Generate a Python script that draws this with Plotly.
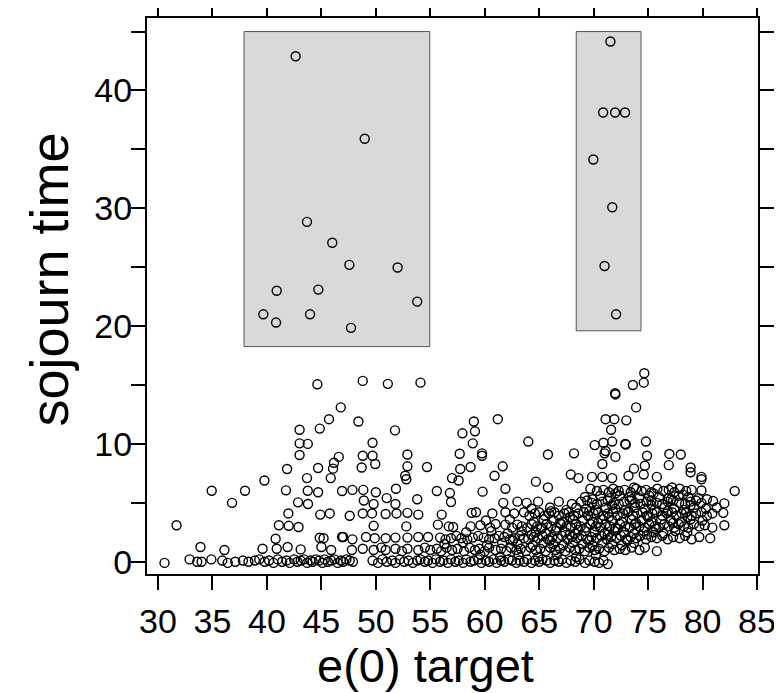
import plotly.graph_objects as go

# ---- data: (e(0) target, sojourn time) ----
box_left = [(40.9, 23.0), (44.72, 23.1), (39.67, 21.0), (43.96, 21.0), (40.84, 20.3),
            (47.72, 19.85), (42.64, 42.9), (48.98, 35.9), (43.68, 28.85), (46.0, 27.07),
            (47.57, 25.2), (52.0, 24.97), (53.8, 22.08)]
box_right = [(71.54, 44.16), (70.87, 38.13), (71.97, 38.13), (72.88, 38.13), (69.97, 34.14),
             (71.71, 30.09), (71.0, 25.1), (72.06, 21.0)]

row_0 = [(30.6,-0.1),(32.9,0.2),(33.6,0.0),(34.0,0.0),(34.9,0.2),(35.9,0.1),(36.4,-0.1),(37.1,0.0),
         (37.8,0.1),(38.3,0.0),(38.9,0.1),(39.3,0.2),(39.8,0.0),(40.2,0.1),(40.6,-0.1),(41.0,0.2),
         (41.4,0.0),(41.8,0.1),(42.1,-0.1),(42.5,0.2),(42.8,0.0),(43.1,0.1),(43.4,0.2),(43.7,-0.1),
         (44.0,0.1),(44.2,0.0),(44.5,0.2),(44.8,0.1),(45.1,-0.1),(45.3,0.2),(45.6,0.0),(45.9,0.1),
         (46.2,0.2),(46.5,-0.1),(46.8,0.1),(47.0,0.0),(47.3,0.2),(47.6,0.1),(47.9,0.0),
         (49.7,0.1),(50.2,-0.1),(50.6,0.2),(51.0,0.0),(51.5,0.1),(51.8,-0.1),(52.2,0.2),(52.6,0.0),
         (53.0,0.1),(53.4,-0.1),(53.8,0.1),(54.1,0.2),(54.5,0.0),(54.8,0.1),(55.2,-0.1),(55.5,0.2),
         (55.9,0.0),(56.2,0.1),(56.6,-0.1),(56.9,0.2),(57.3,0.0),(57.6,0.1),(58.0,-0.1),(58.3,0.2),
         (58.7,0.0),(59.0,0.1),(59.4,0.2),(59.7,-0.1),(60.1,0.1),(60.4,0.0),(60.8,0.2),(61.1,-0.1),
         (61.5,0.1),(61.8,0.0),(62.2,0.2),(62.5,0.1),(62.9,-0.1),(63.2,0.1),(63.6,0.0),(63.9,0.2),
         (64.3,-0.1),(64.6,0.1),(65.0,0.0),(65.3,0.2),(65.7,0.1),(66.0,-0.1),(66.4,0.1),(66.8,0.0),
         (67.1,0.2),(67.5,-0.1),(67.9,0.1),(68.3,0.0),(68.7,0.2),(69.2,-0.1),(69.6,0.1),(70.1,0.0),
         (70.5,-0.1),(70.9,0.1),(71.3,-0.2)]
row_1 = [(33.9,1.25),(36.1,1.0),(39.6,1.1),(40.9,1.1),(41.9,1.25),(43.1,1.05),(45.0,1.25),(45.9,1.0),
         (47.8,1.0),(48.8,1.1),(49.8,1.0),(50.5,1.2),(50.9,1.0),(51.8,1.1),(52.4,0.9),(52.9,1.1),
         (53.9,1.0),(54.5,1.2),(55.0,1.0),(55.6,1.1),(56.0,0.9),(56.5,1.2),(57.0,1.0),(57.5,1.1),
         (58.1,0.9),(58.6,1.2),(59.1,1.0),(59.5,1.1),(60.0,0.9),(60.4,1.2),(61.0,1.0),(61.5,1.1),
         (62.0,0.9),(62.4,1.2),(62.9,1.0),(63.3,1.1),(63.8,0.9),(64.2,1.2),(64.7,1.0),(65.1,1.1),
         (65.6,0.9),(66.0,1.2),(66.5,1.0),(66.9,1.1),(67.4,0.9),(67.8,1.2),(68.3,1.0),(68.7,1.1),
         (69.2,0.9),(69.6,1.2),(70.1,1.0),(70.5,1.1),(71.0,0.9),(71.4,1.2),(71.9,1.0),(72.4,1.1),
         (72.9,1.0),(73.5,1.2),(74.2,1.0),(74.7,1.2),(75.8,0.9)]
row_2 = [(40.8,1.95),(44.85,2.04),(45.2,2.0),(46.9,2.1),(47.0,2.1),(47.85,1.9),(49.1,2.1),(49.9,2.0),
         (50.9,2.0),(51.8,2.05),(52.9,2.05),(53.9,2.1),(54.8,2.1),(55.9,2.05),(56.4,1.9),(56.9,2.0),
         (57.4,2.2),(57.85,2.0),(58.4,1.9),(58.9,2.05),(59.4,2.2),(59.9,2.05),(60.4,1.9),(60.9,2.0),
         (61.3,2.2),(61.8,2.1),(62.3,1.9),(62.7,2.0),(63.2,2.2),(63.6,2.0),(64.0,1.9),(64.5,2.1),
         (64.9,2.0),(65.3,2.2),(65.8,1.9),(66.2,2.1),(66.7,2.0),(67.1,2.2),(67.6,1.9),(68.0,2.1),
         (68.5,2.0),(68.9,2.2),(69.4,1.9),(69.8,2.1),(70.3,2.0),(70.7,2.2),(71.2,1.9),(71.6,2.1),
         (72.1,2.0),(72.5,2.2),(73.0,1.9),(73.4,2.1),(73.9,2.0),(74.3,2.2),(74.8,1.9),(75.3,2.1),
         (75.8,2.0),(76.3,2.2),(76.8,1.9),(77.3,2.1),(77.9,2.0),(78.4,2.2),(79.0,1.9),(79.7,2.1),
         (80.7,2.0)]
row_3 = [(31.7,3.1),(41.1,3.1),(42.0,3.05),(42.9,2.95),(49.8,3.05),(52.8,3.0),(55.7,3.15),(56.7,3.0),
         (57.1,2.95),(58.7,3.0),(59.6,3.1),(60.5,2.9),(61.0,3.2),(61.9,3.15),(62.5,2.9),(63.0,3.15),
         (63.4,3.0),(63.9,2.9),(64.3,3.2),(64.8,3.0),(65.2,2.9),(65.7,3.2),(66.1,3.0),(66.6,2.9),
         (67.0,3.2),(67.5,3.0),(67.9,2.9),(68.4,3.2),(68.8,3.0),(69.3,2.9),(69.7,3.2),(70.2,3.0),
         (70.6,2.9),(71.1,3.2),(71.5,3.0),(72.0,2.9),(72.4,3.2),(72.9,3.0),(73.3,2.9),(73.8,3.2),
         (74.2,3.0),(74.7,2.9),(75.1,3.2),(75.6,3.0),(76.0,2.9),(76.5,3.2),(76.9,3.0),(77.4,2.9),
         (77.8,3.2),(78.3,3.0),(78.7,2.9),(79.2,3.2),(79.7,3.0),(80.2,3.1),(80.9,2.9),(82.0,3.1)]
row_4 = [(41.97,4.1),(44.9,4.0),(45.77,4.1),(47.6,3.9),(48.8,4.1),(49.65,4.1),(50.9,4.05),(51.9,4.1),
         (52.9,4.15),(53.9,4.0),(56.05,4.0),(58.8,4.15),(59.2,4.2),(60.7,4.1),(61.9,4.2),(62.7,4.1),
         (63.6,4.2),(64.1,3.9),(64.6,4.1),(65.0,4.2),(65.5,3.9),(65.9,4.1),(66.4,4.2),(66.8,3.9),
         (67.3,4.1),(67.7,4.2),(68.2,3.9),(68.6,4.1),(69.1,4.2),(69.5,3.9),(70.0,4.1),(70.4,4.2),
         (70.9,3.9),(71.3,4.1),(71.8,4.2),(72.2,3.9),(72.7,4.1),(73.1,4.2),(73.6,3.9),(74.0,4.1),
         (74.5,4.2),(74.9,3.9),(75.4,4.1),(75.8,4.2),(76.3,3.9),(76.7,4.1),(77.2,4.2),(77.6,3.9),
         (78.1,4.1),(78.5,4.2),(79.0,3.9),(79.4,4.1),(79.9,4.2),(80.4,3.9),(80.9,4.1),(81.9,4.15)]
row_5 = [(36.8,5.0),(42.86,5.04),(43.77,4.9),(48.9,5.2),(49.8,4.9),(51.0,5.4),(51.8,4.9),(53.8,5.3),
         (56.9,5.07),(61.7,5.0),(63.0,5.1),(63.85,5.0),(64.9,5.1),(66.8,5.1),(68.0,4.9),(68.85,5.1),
         (69.4,5.2),(69.85,5.0),(70.3,4.9),(70.8,5.1),(71.3,5.2),(71.85,5.0),(72.3,4.9),(72.8,5.1),
         (73.3,5.2),(73.8,5.0),(74.3,4.9),(74.85,5.1),(75.3,5.2),(75.8,5.0),(76.3,4.9),(76.8,5.1),
         (77.3,5.2),(77.85,5.0),(78.4,4.9),(78.9,5.1),(79.4,5.2),(79.9,5.0),(80.97,5.15),(82.0,4.95)]
row_6 = [(34.93,6.03),(37.99,6.03),(41.75,6.06),(43.75,6.03),(44.7,5.9),(46.9,6.0),(47.85,6.1),
         (48.85,6.1),(50.0,5.9),(51.85,6.2),(55.6,6.0),(56.8,5.83),(59.8,5.95),(61.9,6.2),(65.8,6.3),
         (69.7,6.2),(70.3,6.0),(70.9,6.1),(71.4,5.9),(71.8,6.2),(72.3,6.0),(72.85,6.1),(73.4,5.9),
         (73.9,6.2),(74.4,6.0),(74.8,6.1),(75.3,5.9),(75.85,6.2),(76.4,6.0),(76.9,6.1),(77.4,5.9),
         (77.9,6.2),(78.5,6.0),(79.0,6.1),(79.9,6.05),(82.95,6.0)]
mid_rows = [(56.3,1.5),(58.0,1.6),(60.2,1.4),(61.6,1.6),(63.0,1.5),(64.4,1.4),(65.4,1.6),(66.3,1.5),
            (67.2,1.4),(68.1,1.6),(69.0,1.5),(69.9,1.4),(70.8,1.6),(71.7,1.5),(72.6,1.4),(73.7,1.6),
            (58.3,2.5),(60.6,2.6),(62.1,2.4),(63.4,2.6),(64.7,2.5),(65.6,2.4),(66.5,2.6),(67.4,2.5),
            (68.3,2.4),(69.2,2.6),(70.1,2.5),(71.0,2.4),(71.9,2.6),(72.8,2.5),(73.7,2.4),(74.6,2.6),
            (75.5,2.5),(76.4,2.4),(77.5,2.6),(78.6,2.5),
            (60.1,3.5),(62.3,3.6),(64.5,3.4),(65.4,3.6),(66.3,3.5),(67.2,3.4),(68.1,3.6),(69.0,3.5),
            (69.9,3.4),(70.8,3.6),(71.7,3.5),(72.6,3.4),(73.5,3.6),(74.4,3.5),(75.3,3.4),(76.2,3.6),
            (77.1,3.5),(78.0,3.4),(78.9,3.6),(80.0,3.5),
            (64.3,4.5),(66.0,4.6),(67.5,4.4),(68.4,4.6),(69.3,4.5),(70.2,4.4),(71.1,4.6),(72.0,4.5),
            (72.9,4.4),(73.8,4.6),(74.7,4.5),(75.6,4.4),(76.5,4.6),(77.4,4.5),(78.3,4.4),(79.2,4.6),
            (80.3,4.5),(81.3,4.6),
            (69.2,5.5),(70.6,5.6),(71.5,5.4),(72.4,5.6),(73.3,5.5),(74.2,5.4),(75.1,5.6),(76.0,5.5),
            (76.9,5.4),(77.8,5.6),(78.7,5.5),(79.6,5.4)]
dense_extra = [(65.2,2.8),(66.9,3.3),(68.6,2.7),(70.4,3.3),(72.2,2.8),(73.9,3.3),(75.7,2.8),(77.3,3.3),
               (66.1,4.3),(67.8,3.8),(69.6,4.3),(71.4,3.8),(73.2,4.3),(75.0,3.8),(76.8,4.3),(78.6,3.8),
               (69.9,5.3),(71.7,4.8),(73.5,5.3),(75.3,4.8),(77.1,5.3),(78.9,4.8),(80.4,5.3),
               (62.6,1.8),(64.3,2.3),(66.0,1.8),(67.8,2.3),(69.6,1.8),(71.3,2.3),(73.1,1.8),(74.9,2.3),
               (59.6,0.6),(61.4,0.4),(63.1,0.6),(64.9,0.4),(66.6,0.6),(68.4,0.4),(70.2,0.6),
               (72.0,5.8),(73.7,6.3),(75.5,5.8),(77.2,6.3),(78.2,5.7)]
upper_rows = [(39.77,6.9),(43.68,7.1),(45.86,7.1),(52.7,7.3),(52.8,7.0),(57.0,7.1),(57.6,6.9),
              (60.9,7.3),(64.7,6.8),(67.9,7.4),(68.6,7.1),(69.85,7.2),(70.8,7.2),(71.7,7.1),(73.2,7.3),
              (74.6,7.4),(75.8,7.2),(78.9,7.6),(79.9,7.2),(79.9,7.0),
              (41.85,7.87),(44.7,7.96),(46.07,7.9),(46.16,8.4),(48.7,8.0),(49.95,8.3),(52.9,8.1),
              (54.7,8.04),(57.75,7.87),(58.7,8.04),(61.65,8.1),(70.8,8.3),(73.7,7.9),(74.7,8.15),
              (76.9,8.2),(78.9,8.0),
              (43.0,9.06),(46.6,8.9),(48.8,9.0),(49.7,9.0),(52.9,9.1),(57.7,9.17),(59.75,9.2),
              (59.75,9.0),(65.8,9.1),(68.2,9.2),(71.0,9.2),(71.1,9.4),(72.0,8.9),(74.9,9.0),
              (76.95,9.15),(78.0,9.1),
              (43.0,10.05),(43.75,10.0),(49.7,10.1),(58.9,10.05),(64.0,10.2),(70.1,9.9),(70.9,10.1),
              (71.7,10.2),(72.9,10.0),(72.95,9.95),(74.8,10.2),
              (43.0,11.2),(44.85,11.3),(51.76,11.15),(57.95,10.9),(59.1,11.07),(71.6,11.2),
              (45.7,12.1),(48.4,11.9),(59.0,11.9),(61.2,12.1),(71.1,12.1),(71.9,12.1),(73.0,12.0),
              (46.78,13.1),(73.9,13.1),(71.97,14.3),(72.0,14.2),
              (44.63,15.06),(48.8,15.35),(51.1,15.1),(54.1,15.2),(73.6,15.0),(74.6,15.2),(74.65,16.0)]

# shaded boxes: (x0, x1, y0, y1)
box_left_bounds = (37.9, 54.95, 18.26, 45.0)
box_right_bounds = (68.4, 74.35, 19.6, 45.0)

x_ticks = [30, 35, 40, 45, 50, 55, 60, 65, 70, 75, 80, 85]
y_ticks = [0, 5, 10, 15, 20, 25, 30, 35, 40, 45]
y_ticktext = ["0", "", "10", "", "20", "", "30", "", "40", ""]

all_pts = (row_0 + row_1 + row_2 + row_3 + row_4 + row_5 + row_6 + mid_rows + dense_extra
           + upper_rows + box_left + box_right)
xs = [p[0] for p in all_pts]
ys = [p[1] for p in all_pts]

fig = go.Figure()
fig.add_trace(go.Scatter(
    x=xs, y=ys, mode="markers",
    marker=dict(symbol="circle-open", size=9, color="black", line=dict(width=1.4, color="black")),
    showlegend=False, hoverinfo="skip"))

for (x0, x1, y0, y1) in (box_left_bounds, box_right_bounds):
    fig.add_shape(type="rect", xref="x", yref="y", x0=x0, x1=x1, y0=y0, y1=y1,
                  fillcolor="#d9d9d9", line=dict(color="#555555", width=1), layer="below")

tick_font = dict(family="Liberation Sans, Arial, sans-serif", size=34, color="black")
axis_common = dict(showgrid=False, zeroline=False, showline=True, linewidth=2, linecolor="black",
                   mirror="ticks", ticks="outside", ticklen=14, tickwidth=2, tickcolor="black",
                   tickfont=tick_font, automargin=False)

# the page adds an 8px body margin, so the figure is 8px smaller than the window
fig.update_layout(
    width=774, height=685,
    margin=dict(l=139, r=24, t=10, b=119, pad=0),
    paper_bgcolor="white", plot_bgcolor="white",
    xaxis=dict(range=[28.99, 85.09], tickvals=x_ticks, ticklabelstandoff=2, **axis_common),
    yaxis=dict(range=[-1.04, 46.15], tickvals=y_ticks, ticktext=y_ticktext,
               ticklabelstandoff=-8, **axis_common),
    annotations=[
        dict(text="sojourn time", xref="paper", yref="paper", x=-0.160, y=0.53,
             xanchor="center", yanchor="middle", textangle=-90, showarrow=False,
             font=dict(family="Liberation Sans, Arial, sans-serif", size=54, color="black")),
        dict(text="e(0) target", xref="paper", yref="paper", x=0.455, y=-0.165,
             xanchor="center", yanchor="middle", showarrow=False,
             font=dict(family="Liberation Sans, Arial, sans-serif", size=47, color="black")),
    ],
)

fig.write_html("out.html")
